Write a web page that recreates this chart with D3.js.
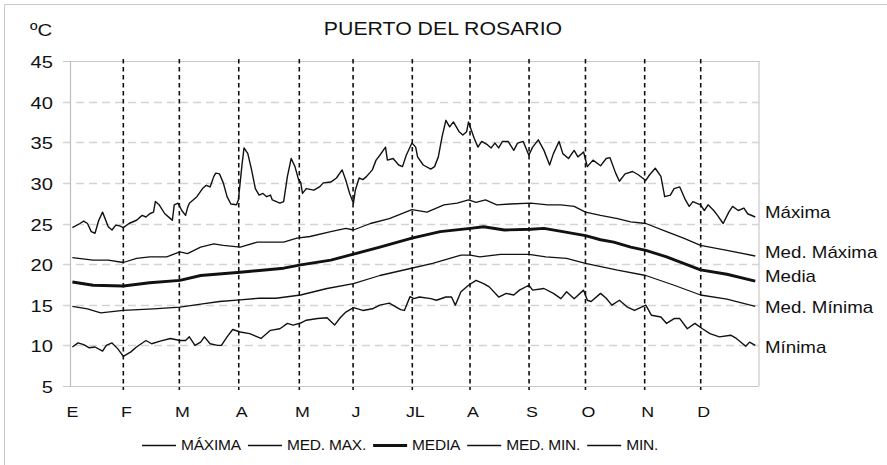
<!DOCTYPE html>
<html><head><meta charset="utf-8">
<script src="https://cdn.jsdelivr.net/npm/d3@7"></script>
<style>
body{margin:0;background:#fff}
svg{display:block}
text{font-family:"Liberation Sans",Arial,sans-serif;fill:#111}
</style>
</head><body>
<svg id="c" width="887" height="465"></svg>
<script>
// ---------- data ----------
const title = "PUERTO DEL ROSARIO";
const unitLabel = "ºC";
const months = ["E","F","M","A","M","J","JL","A","S","O","N","D"];
const monthLineDays = [28,57.7,89.2,121.3,149.8,181.2,211.8,243.1,273,304.4,334.1];
const yTicks = [5,10,15,20,25,30,35,40,45];

const maxDays = [1,5,7,9,11,13,15,17,20,22,24,26,28,31,35,38,40,42,44,45,47,50,53,54,55,57,59,61,62,63,67,70,72,74,76,77,79,81,83,85,88,89,91,92,94,96,98,100,102,104,106,107,111,113,115,117,119,121,122,123,125,129,132,134,138,141,144,146,148,150,151,153,155,157,160,162,164,167,168,171,174,176,178,181,183,184,187,191,193,195,197,199,201,203,206,208,210,211,214,216,218,221,223,225,227,229,232,235,237,240,243,245,248,251,254,256,259,261,264,267,269,272,274,277,281,284,286,289,291,294,298,301,305,307,310,313,315,318,320,323,326,328,330,334,336,338,341,343,346,349,351,354,357,359,363];
const maxVals = [24.5,25.0,25.3,25.0,24.0,23.8,25.4,26.4,24.6,24.2,24.8,24.7,24.5,25.0,25.4,26.0,25.8,26.2,26.4,27.7,27.3,26.2,25.6,25.4,27.3,27.5,26.6,26.0,26.9,27.5,28.3,29.3,29.7,29.5,30.8,31.2,31.1,30.0,28.3,27.4,27.3,27.9,32.4,34.3,33.6,31.6,29.3,28.5,28.7,28.3,28.5,27.9,27.5,27.7,30.8,33.0,32.0,30.3,30.1,28.7,29.3,29.1,29.5,30.0,30.1,30.6,31.6,30.3,28.7,27.5,29.1,30.6,30.4,30.8,31.6,32.8,33.4,34.4,32.8,33.0,32.2,32.0,33.4,34.9,34.4,33.2,32.2,31.7,32.0,33.2,35.7,37.7,36.9,37.5,36.3,35.9,36.3,37.5,35.5,34.4,35.1,34.7,34.3,34.9,34.3,35.1,35.1,34.0,34.9,35.1,33.4,34.4,35.3,34.0,32.2,33.6,35.1,33.6,33.0,34.0,33.2,33.8,32.0,32.8,32.1,33.0,33.1,31.2,30.2,31.1,31.4,31.0,30.3,31.0,31.8,30.8,28.3,28.5,29.3,29.5,27.9,27.1,27.7,27.3,26.6,27.3,26.6,26.0,25.0,26.4,27.1,26.6,26.9,26.2,25.8];

const medMaxDays = [1,12,20,28,35,42,51,58,62,69,76,81,90,99,113,120,127,138,146,150,159,169,181,189,198,205,211,215,220,226,233,244,253,260,267,273,281,290,297,305,316,325,334,348,363];
const medMaxVals = [20.8,20.5,20.5,20.2,20.7,20.9,20.9,21.5,21.3,22.1,22.5,22.3,22.1,22.7,22.7,23.2,23.4,24.0,24.4,24.2,25.0,25.6,26.7,26.4,27.3,27.5,27.9,27.6,27.9,27.3,27.4,27.5,27.3,27.3,27.1,26.4,26.0,25.6,25.2,25.0,24.0,23.2,22.3,21.7,21.0];

const mediaDays = [1,12,28,42,58,69,90,113,122,138,148,164,181,196,212,219,230,244,251,261,273,281,288,297,305,316,334,348,363];
const mediaVals = [17.8,17.4,17.3,17.7,18.0,18.6,19.0,19.5,19.9,20.5,21.1,22.1,23.2,24.0,24.4,24.6,24.2,24.3,24.4,24.0,23.5,23.0,22.7,22.1,21.7,20.9,19.3,18.75,17.9];

const medMinDays = [1,9,16,28,44,58,70,79,90,100,109,122,136,150,164,179,192,207,212,217,228,243,252,263,273,290,305,320,334,348,363];
const medMinVals = [14.8,14.5,14.0,14.3,14.5,14.7,15.1,15.4,15.6,15.8,15.8,16.2,17.0,17.6,18.6,19.4,20.1,21.1,21.1,20.9,21.2,21.2,20.9,20.7,20.1,19.25,18.6,17.4,16.2,15.7,14.8];

const minDays = [1,4,7,10,13,17,19,22,25,28,32,35,40,43,48,53,58,61,63,66,69,71,74,78,80,83,86,90,95,101,106,111,115,118,122,125,131,136,140,143,146,150,155,160,164,169,175,177,180,182,185,191,194,199,202,204,207,211,215,219,222,227,231,235,238,243,245,251,256,260,263,267,272,274,276,281,284,287,291,295,299,305,308,313,316,320,323,327,331,335,339,344,350,353,358,360,363];
const minVals = [9.8,10.3,10.1,9.7,9.8,9.3,10.0,10.3,9.6,8.65,9.2,9.8,10.6,10.2,10.55,10.85,10.6,10.6,11.05,10.0,10.4,11.05,10.2,10.0,10.0,11.05,11.95,11.65,11.45,10.85,11.85,12.05,12.7,12.5,12.75,13.1,13.3,13.4,12.5,13.4,14.1,14.65,14.3,14.5,14.95,15.2,14.4,14.3,16.0,15.75,15.95,15.75,15.55,15.95,15.95,14.95,16.6,17.4,18.0,17.6,17.2,15.95,16.4,16.2,16.8,17.4,16.8,17.0,16.4,15.75,16.6,15.75,16.8,15.55,15.4,16.4,15.8,14.95,15.55,14.75,14.3,14.95,13.7,13.5,12.7,13.3,13.3,12.05,12.7,12.05,11.45,11.05,11.25,10.85,9.9,10.4,10.0];

const seriesNames = ["MÁXIMA","MED. MAX.","MEDIA","MED. MIN.","MIN."];
const endLabels = ["Máxima","Med. Máxima","Media","Med. Mínima","Mínima"];

// ---------- layout ----------
const svg = d3.select("#c");
const x = d3.scaleLinear().domain([0,365]).range([70.5,759]);
const y = d3.scaleLinear().domain([5,45]).range([386,61]);

function stext(sel, px, py, str, size, sx, anchor){
  return sel.append("text")
    .attr("transform", `translate(${px},${py}) scale(${sx},1)`)
    .attr("text-anchor", anchor || "start")
    .style("font-size", size + "px")
    .text(str);
}

// outer frame (top/left visible)
svg.append("path").attr("d","M4.5,470 V4.5 H890").attr("fill","none").attr("stroke","#c8c8c8").attr("stroke-width",1);

// title + unit
stext(svg, 443, 35, title, 19, 1.12, "middle");
stext(svg, 30, 36, unitLabel, 17, 1.2, "start");

// horizontal gridlines
const gridG = svg.append("g");
yTicks.forEach(t => {
  const yy = Math.round(y(t)) + 0.5;
  const solid = (t === 5 || t === 45);
  gridG.append("line").attr("x1", 63).attr("x2", x(365)).attr("y1", yy).attr("y2", yy)
    .attr("stroke", solid ? "#c8c8c8" : "#d4d4d4").attr("stroke-width", solid ? 1.2 : 1.3)
    .attr("stroke-dasharray", solid ? null : "8,5");
  stext(gridG, 53, yy + 6, String(t), 16.5, 1.22, "end");
});
// left axis + right border
svg.append("line").attr("x1", x(0)).attr("x2", x(0)).attr("y1", y(45)).attr("y2", y(5)).attr("stroke","#bdbdbd").attr("stroke-width",1.2);
svg.append("line").attr("x1", x(365)).attr("x2", x(365)).attr("y1", y(45)).attr("y2", y(5)).attr("stroke","#c8c8c8").attr("stroke-width",1.2);

// month dividers
svg.append("g").selectAll("line").data(monthLineDays).join("line")
  .attr("x1", d => x(d)).attr("x2", d => x(d)).attr("y1", y(45) - 2).attr("y2", y(5) + 4)
  .attr("stroke","#111").attr("stroke-width",1.6).attr("stroke-dasharray","4.5,3.5");

// month labels
const monthPos = [0].concat(monthLineDays);
const mg = svg.append("g");
months.forEach((m,i) => {
  const px = i === 0 ? x(0) + 2 : x(monthPos[i]) + 3;
  stext(mg, px, 417, m, 15.5, 1.15, "middle");
});

// series
const series = [
  {days:maxDays, vals:maxVals, w:1.4},
  {days:medMaxDays, vals:medMaxVals, w:1.3},
  {days:mediaDays, vals:mediaVals, w:2.9},
  {days:medMinDays, vals:medMinVals, w:1.3},
  {days:minDays, vals:minVals, w:1.4}
];
const line = d3.line().x(d => x(d[0])).y(d => y(d[1]));
series.forEach(s => {
  const pts = s.days.map((d,i) => [d, s.vals[i]]);
  svg.append("path").datum(pts).attr("d", line).attr("fill","none")
    .attr("stroke","#111").attr("stroke-width", s.w).attr("stroke-linejoin","round");
});

// end labels
const endY = [218, 258, 281.5, 313, 353];
endLabels.forEach((t,i) => stext(svg, 765, endY[i], t, 16, 1.17, "start"));

// legend
const lg = svg.append("g");
let lx = 142;
const ly = 445.5;
seriesNames.forEach((n,i) => {
  lg.append("line").attr("x1", lx).attr("x2", lx + 34).attr("y1", ly).attr("y2", ly)
    .attr("stroke","#111").attr("stroke-width", series[i].w);
  const t = stext(lg, lx + 39, 450, n, 15.5, 1.0, "start").style("letter-spacing","-0.2px");
  lx += 39 + t.node().getComputedTextLength() + 7;
});
</script>
</body></html>
